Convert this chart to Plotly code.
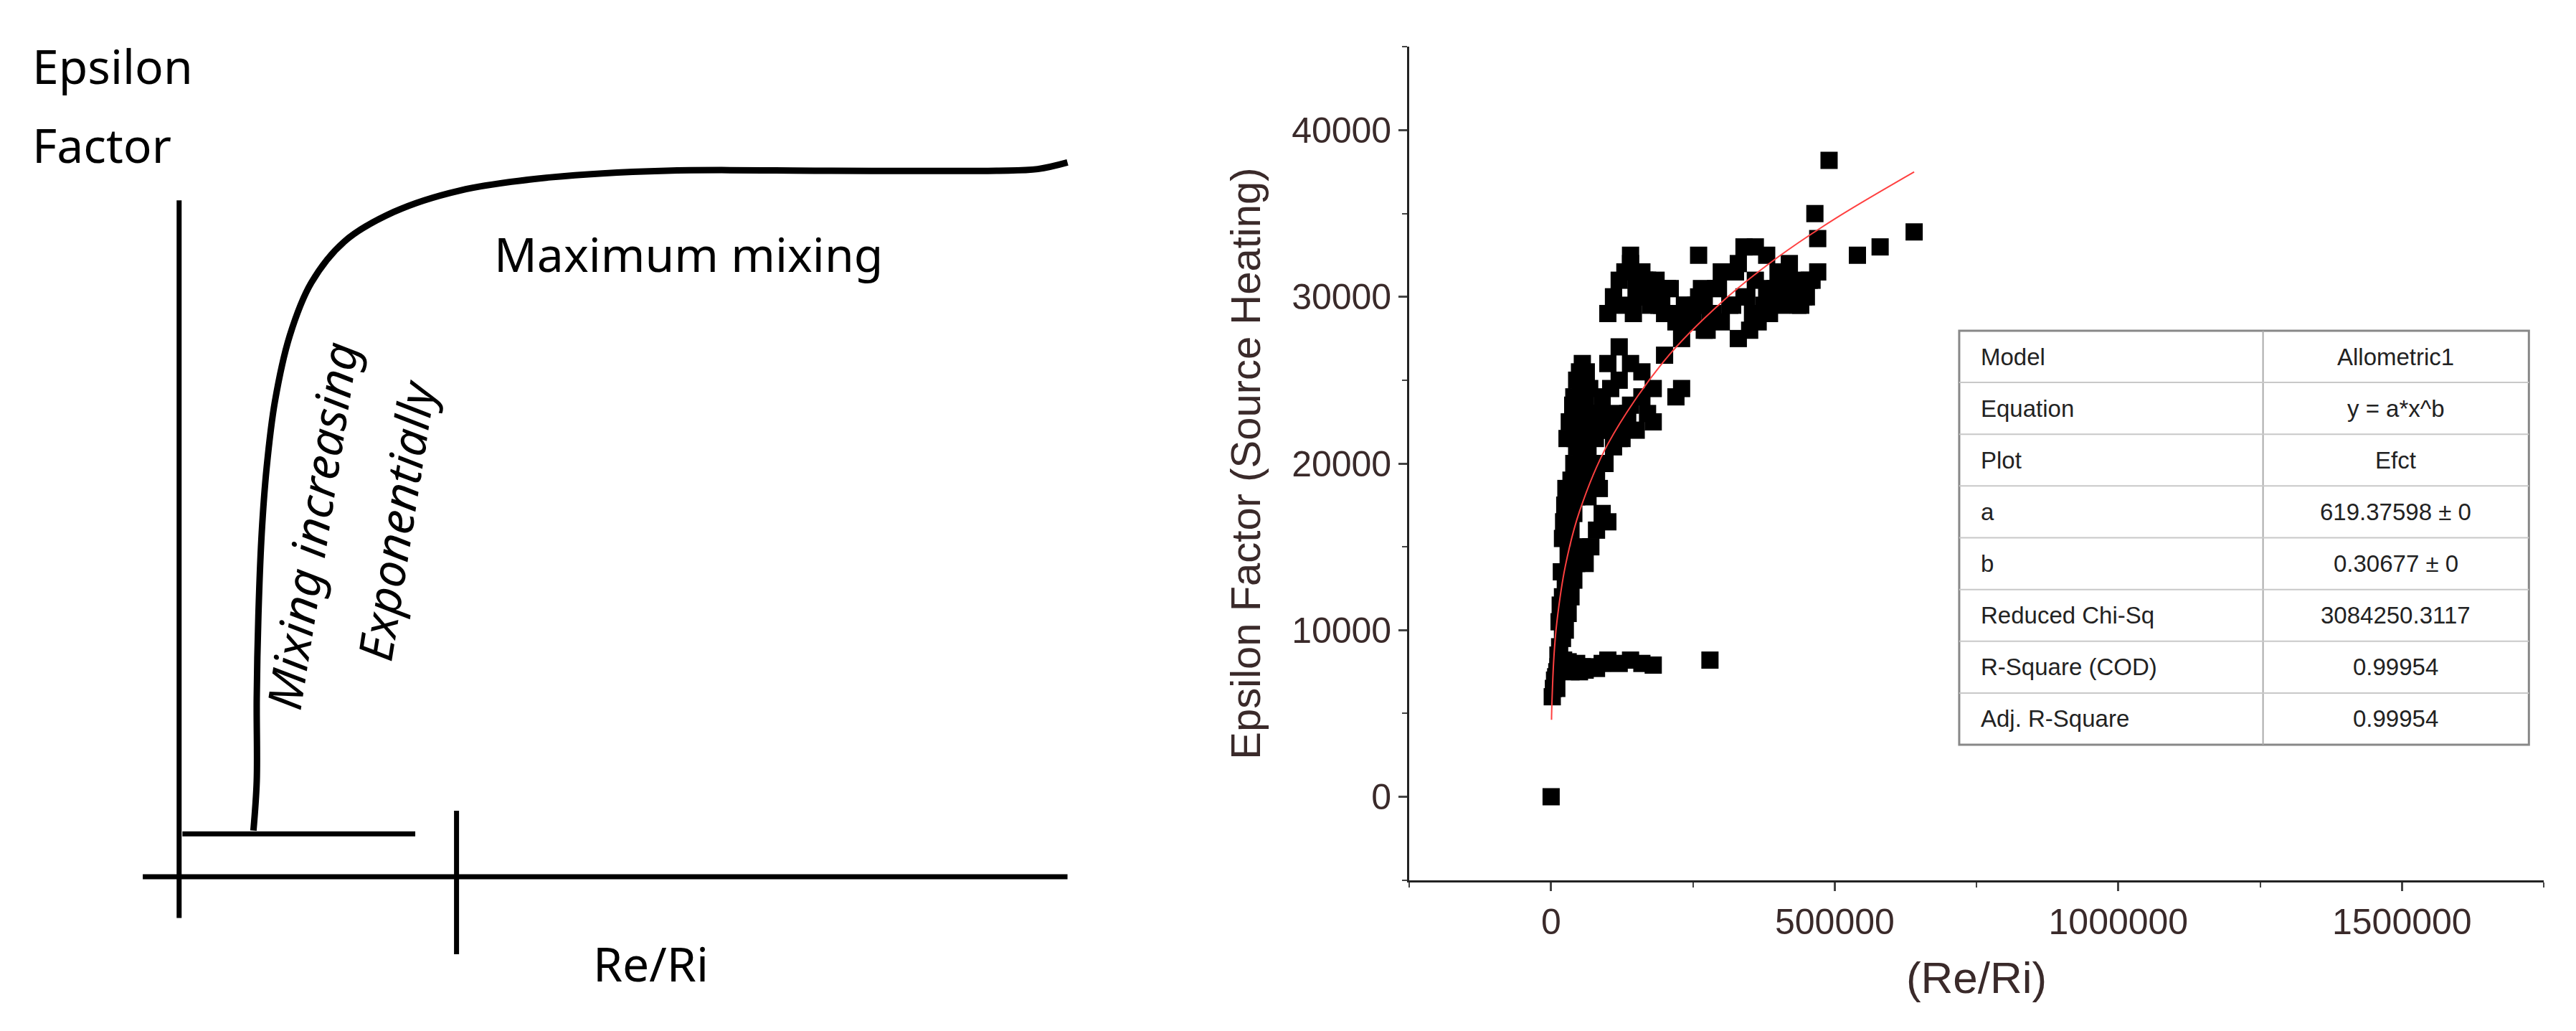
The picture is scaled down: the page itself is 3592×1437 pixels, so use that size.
import plotly.graph_objects as go

# ---------------- data ----------------
# Left sketch (schematic, in sketch units: x 0..702 left->right, y 0..625 top->bottom)
sketch_curve_x = [150, 152, 152, 153, 155, 158, 163, 172, 185, 205, 235, 275, 330, 400, 500, 600, 625, 643]
sketch_curve_y = [500, 470, 420, 370, 320, 280, 240, 200, 168, 143, 125, 112, 104, 100, 100, 100, 99, 95]

# Right scatter: Re/Ri vs Epsilon Factor
re_ri = [0, 2000, 4000, 6000, 8000, 10000, 12000, 15000, 18000, 20000, 22000, 25000, 28000, 30000, 35000, 40000, 45000,
         50000, 55000, 60000, 70000, 80000, 90000, 100000, 120000, 140000, 160000, 180000, 280000,
         15000, 20000, 25000, 30000, 35000, 40000, 45000, 50000, 20000, 25000, 30000, 35000, 40000, 45000, 50000, 55000,
         30000, 35000, 40000, 45000, 50000, 55000, 60000, 40000, 45000, 50000, 55000, 60000, 65000, 70000, 80000,
         60000, 70000, 80000, 90000, 100000, 65000, 75000, 85000, 95000, 110000, 70000, 80000, 90000,
         100000, 110000, 120000, 130000, 140000, 150000, 160000, 170000, 180000, 120000, 140000, 160000, 180000, 200000,
         220000, 230000, 100000, 120000,
         100000, 110000, 120000, 130000, 140000, 150000, 160000, 180000, 200000, 220000, 240000, 260000, 280000, 300000,
         320000, 340000, 360000, 380000, 400000, 420000, 440000, 460000, 470000, 110000, 130000, 150000, 170000, 190000,
         210000, 250000, 270000, 290000, 310000, 330000, 350000, 370000, 390000, 410000, 430000, 450000, 140000, 150000,
         260000, 300000, 340000, 360000, 380000, 420000, 440000, 230000, 270000, 330000,
         465000, 470000, 490000, 540000, 580000, 640000, 455000,
         10000, 12000, 14000, 16000, 18000, 20000, 22000, 24000, 26000, 28000, 32000, 38000, 42000, 48000, 52000,
         58000, 62000, 68000, 72000, 78000, 85000, 95000, 105000, 115000, 125000, 135000, 145000, 155000, 165000,
         175000, 185000, 195000, 205000, 215000, 235000, 245000, 255000, 265000, 275000, 285000, 295000, 305000,
         315000, 325000, 345000, 355000, 365000, 375000, 385000, 395000, 405000, 415000, 425000, 435000, 445000]
eps = [0, 6000, 6500, 7000, 7200, 7500, 7800, 8000, 8000, 7900, 8200, 8000, 7800, 8100, 7500, 7800, 8000,
       7500, 7800, 7600, 7800, 7700, 8000, 8200, 8000, 8200, 8000, 7900, 8200,
       9000, 9500, 10000, 11000, 12000, 13000, 14000, 15000, 12000, 13000, 14500, 16000, 17000, 18000, 19000, 20000,
       18000, 19000, 20000, 21000, 22000, 23000, 24000, 24000, 25000, 25500, 26000, 22500, 21000, 20000, 19000,
       14000, 15000, 16000, 17000, 16500, 18000, 19000, 18500, 20000, 21000, 22000, 23000, 24000,
       22000, 23000, 21500, 22500, 23500, 22000, 24000, 23000, 22500, 25000, 26000, 25500, 24500, 26500,
       24000, 24500, 26000, 27000,
       29000, 30000, 31000, 29500, 32500, 30500, 31500, 30000, 29000, 28500, 29500, 30000, 29000, 28500,
       29500, 30000, 31000, 30500, 31500, 30000, 30500, 31000, 31500, 30000, 31500, 30000, 31000, 29500,
       30500, 28500, 29500, 30500, 31500, 32000, 28000, 29000, 30000, 30500, 31000, 30000, 32000, 31000,
       32500, 31500, 33000, 33000, 32500, 32000, 29500, 27500, 28000, 27500,
       35000, 33500, 38200, 32500, 33000, 33900, 31000,
       6500, 8500, 10500, 11500, 13500, 15500, 16500, 17500, 18500, 21500, 22500, 23500, 21500, 22500, 24500,
       23500, 25500, 24500, 22500, 21500, 23000, 22000, 24500, 22500, 21500, 23000, 29000, 30000, 31000,
       29500, 31000, 29500, 30500, 29000, 29500, 28500, 29500, 30500, 28000, 29000, 30500, 31500,
       29500, 31500, 30000, 29000, 28500, 29500, 29000, 30500, 29500, 30000, 30500, 29500, 30000]

fit_x = [700, 1000, 5000, 10000, 25000, 50000, 100000, 200000, 300000, 400000, 500000, 640000]
fit_y = [4620, 5155, 8448, 10450, 13840, 17120, 21170, 26190, 29660, 32390, 34680, 37500]

table_labels = ["Model", "Equation", "Plot", "a", "b", "Reduced Chi-Sq", "R-Square (COD)", "Adj. R-Square"]
table_values = ["Allometric1", "y = a*x^b", "Efct", "619.37598 ± 0", "0.30677 ± 0", "3084250.3117", "0.99954", "0.99954"]

x_ticks = [0, 500000, 1000000, 1500000]
y_ticks = [0, 10000, 20000, 30000, 40000]

# ---------------- figure ----------------
W, H = 1560.0, 625.0
def px(x): return x / W
def py(y): return 1 - y / H

fig = go.Figure()
ink = "black"
font_sk = "Noto Sans"

fig.add_trace(go.Scatter(x=sketch_curve_x, y=sketch_curve_y, mode="lines", xaxis="x2", yaxis="y2",
                         line=dict(color=ink, width=9, shape="spline"), showlegend=False, hoverinfo="skip"))
for (x0, y0, x1, y1) in [(105, 118, 105, 553), (83, 528, 643, 528), (273, 488, 273, 575), (107, 502, 248, 502)]:
    fig.add_shape(type="line", xref="x2", yref="y2", x0=x0, y0=y0, x1=x1, y1=y1,
                  line=dict(color=ink, width=7))

sk_ann = [("Epsilon", 15, 36, "left"), ("Factor", 15, 84, "left"), ("Maximum mixing", 295, 150, "left"),
          ("Re/Ri", 355, 580, "left")]
for t, x, y, al in sk_ann:
    fig.add_annotation(text=t, x=x, y=y, xref="x2", yref="y2", showarrow=False, xanchor=al, yanchor="middle",
                       font=dict(family=font_sk, size=66, color=ink))
fig.add_annotation(text="<i>Mixing increasing</i>", x=185, y=315, xref="x2", yref="y2", showarrow=False, textangle=-81,
                   font=dict(family=font_sk, size=66, color=ink), xanchor="center", yanchor="middle")
fig.add_annotation(text="<i>Exponentially</i>", x=236, y=312, xref="x2", yref="y2", showarrow=False, textangle=-81,
                   font=dict(family=font_sk, size=66, color=ink), xanchor="center", yanchor="middle")

fig.add_trace(go.Scatter(x=re_ri, y=eps, mode="markers", marker=dict(symbol="square", size=24, color="black"),
                         showlegend=False))
fig.add_trace(go.Scatter(x=fit_x, y=fit_y, mode="lines", line=dict(color="#ff4040", width=2, shape="spline"),
                         showlegend=False))

tx0, tx1, tcol, ty0, ty1 = 1183, 1528, 1367, 197, 448
rh = (ty1 - ty0) / len(table_labels)
fig.add_shape(type="rect", xref="paper", yref="paper", x0=px(tx0), x1=px(tx1), y0=py(ty1), y1=py(ty0),
              line=dict(color="#888888", width=3), fillcolor="white")
fig.add_shape(type="line", xref="paper", yref="paper", x0=px(tcol), x1=px(tcol), y0=py(ty1), y1=py(ty0),
              line=dict(color="#aaaaaa", width=2))
for i, (lab, val) in enumerate(zip(table_labels, table_values)):
    yc = ty0 + rh * (i + 0.5)
    if i > 0:
        fig.add_shape(type="line", xref="paper", yref="paper", x0=px(tx0), x1=px(tx1),
                      y0=py(ty0 + rh * i), y1=py(ty0 + rh * i), line=dict(color="#c8c8c8", width=2))
    fig.add_annotation(text=lab, x=px(tx0 + 12), y=py(yc), xref="paper", yref="paper", showarrow=False,
                       xanchor="left", yanchor="middle", font=dict(family="Liberation Sans", size=33, color="#222"))
    fig.add_annotation(text=val, x=px((tcol + tx1) / 2), y=py(yc), xref="paper", yref="paper", showarrow=False,
                       xanchor="center", yanchor="middle", font=dict(family="Liberation Sans", size=33, color="#222"))

axcol = "#3a2a2a"
fig.update_layout(
    width=3592, height=1437, paper_bgcolor="white", plot_bgcolor="white",
    margin=dict(l=0, r=0, t=0, b=0),
    xaxis=dict(domain=[px(850), px(1537)], range=[-250000, 1750000], tickvals=x_ticks,
               ticktext=[str(v) for v in x_ticks], showgrid=False, zeroline=False, showline=True,
               linecolor="#222", linewidth=3, ticks="outside", ticklen=12, tickwidth=3,
               minor=dict(ticks="outside", ticklen=7, dtick=250000, tickwidth=2),
               tickfont=dict(family="Liberation Sans", size=50, color=axcol),
               title=dict(text="(Re/Ri)", font=dict(family="Liberation Sans", size=62, color=axcol), standoff=30)),
    yaxis=dict(domain=[py(530), py(25)], range=[-5000, 45000], tickvals=y_ticks,
               ticktext=[str(v) for v in y_ticks], showgrid=False, zeroline=False, showline=True,
               linecolor="#222", linewidth=3, ticks="outside", ticklen=12, tickwidth=3,
               minor=dict(ticks="outside", ticklen=7, dtick=5000, tickwidth=2),
               tickfont=dict(family="Liberation Sans", size=50, color=axcol),
               title=dict(text="Epsilon Factor (Source Heating)",
                          font=dict(family="Liberation Sans", size=58, color=axcol), standoff=25)),
    xaxis2=dict(domain=[0, 702 / W], range=[0, 702], visible=False, anchor="y2"),
    yaxis2=dict(domain=[0, 1], range=[625, 0], visible=False, anchor="x2"),
)

fig.write_html("out.html")
